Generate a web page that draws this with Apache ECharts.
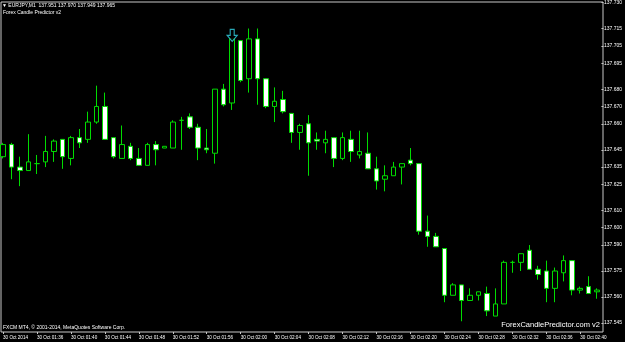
<!DOCTYPE html>
<html>
<head>
<meta charset="utf-8">
<script src="https://cdn.jsdelivr.net/npm/echarts@6/dist/echarts.min.js"></script>
<style>
html,body{margin:0;padding:0;background:#000;}
#chart{width:625px;height:342px;}
</style>
</head>
<body>
<div id="chart"></div>
<script>
// M1 bars, 30 Oct 2014, 01:32 .. 02:42
var times = ['01:32','01:33','01:34','01:35','01:36','01:37','01:38','01:39','01:40','01:41','01:42','01:43','01:44','01:45','01:46','01:47','01:48','01:49','01:50','01:51','01:52','01:53','01:54','01:55','01:56','01:57','01:58','01:59',
'02:00','02:01','02:02','02:03','02:04','02:05','02:06','02:07','02:08','02:09','02:10','02:11','02:12','02:13','02:14','02:15','02:16','02:17','02:18','02:19','02:20','02:21','02:22','02:23','02:24','02:25','02:26','02:27','02:28','02:29','02:30','02:31','02:32','02:33','02:34','02:35','02:36','02:37','02:38','02:39','02:40','02:41','02:42'];

var open = [137.641,137.648,137.635,137.633,137.637,137.638,137.644,137.651,137.640,137.652,
137.651,137.661,137.670,137.652,137.640,137.647,137.640,137.636,137.648,137.646,
137.646,137.662,137.664,137.658,137.646,137.643,137.680,137.672,137.708,137.686,
137.709,137.686,137.670,137.674,137.666,137.655,137.660,137.651,137.649,137.652,
137.640,137.651,137.642,137.643,137.634,137.628,137.630,137.635,137.639,137.637,
137.598,137.595,137.588,137.561,137.567,137.558,137.561,137.562,137.549,137.556,
137.580,137.580,137.587,137.576,137.575,137.565,137.574,137.581,137.564,137.566,
137.563];
var close = [137.648,137.635,137.633,137.638,137.637,137.644,137.650,137.641,137.652,137.649,
137.661,137.670,137.651,137.641,137.648,137.640,137.636,137.648,137.645,137.647,
137.661,137.662,137.658,137.646,137.645,137.680,137.671,137.709,137.685,137.709,
137.686,137.670,137.673,137.667,137.655,137.659,137.649,137.650,137.651,137.640,
137.652,137.644,137.644,137.634,137.627,137.630,137.635,137.637,137.637,137.598,
137.595,137.589,137.561,137.567,137.558,137.561,137.563,137.552,137.556,137.580,
137.580,137.585,137.576,137.573,137.565,137.575,137.581,137.564,137.565,137.562,
137.564];
var low = [137.640,137.628,137.624,137.633,137.631,137.635,137.638,137.634,137.636,137.646,
137.649,137.660,137.651,137.640,137.640,137.639,137.636,137.636,137.636,137.646,
137.646,137.645,137.657,137.639,137.643,137.637,137.670,137.668,137.684,137.678,
137.671,137.669,137.661,137.666,137.649,137.645,137.630,137.645,137.643,137.635,
137.639,137.638,137.640,137.634,137.622,137.621,137.630,137.625,137.636,137.596,
137.589,137.589,137.557,137.561,137.546,137.558,137.558,137.549,137.549,137.556,
137.574,137.575,137.576,137.570,137.557,137.557,137.569,137.561,137.562,137.562,
137.559];
var high = [137.649,137.649,137.641,137.654,137.642,137.653,137.651,137.651,137.653,137.657,
137.667,137.682,137.678,137.652,137.659,137.649,137.646,137.649,137.650,137.647,
137.662,137.664,137.666,137.660,137.657,137.680,137.683,137.709,137.708,137.715,
137.715,137.686,137.681,137.679,137.666,137.660,137.665,137.655,137.656,137.652,
137.655,137.656,137.656,137.655,137.641,137.636,137.638,137.637,137.646,137.637,
137.607,137.597,137.588,137.568,137.567,137.565,137.563,137.566,137.565,137.581,
137.581,137.585,137.590,137.578,137.581,137.577,137.584,137.581,137.566,137.572,
137.565];

// sell signal arrow
var signalIndex = [27];
var signalPrice = [137.711];

// price-axis tick labels
var priceTicks = [137.730,137.715,137.705,137.695,137.680,137.670,137.660,137.645,137.635,137.625,137.610,137.600,137.590,137.575,137.560,137.545];

var ohlc = times.map(function(t, i){ return [open[i], close[i], low[i], high[i]]; });
var signals = signalIndex.map(function(x, i){ return [x, signalPrice[i]]; });

var FONT = "'Liberation Sans', Arial, sans-serif";
var GREEN = '#00dc00';
var FRAME = '#c8c8c8';

var chart = echarts.init(document.getElementById('chart'), null, {renderer:'canvas'});
chart.setOption({
  animation: false,
  backgroundColor: '#000000',
  title: [
    {text: '\u25BC EURJPY,M1  137.951 137.970 137.949 137.965', left: 2, top: 3, padding: 0,
     textStyle: {color:'#ffffff', fontSize:5, fontWeight:'normal', fontFamily: FONT}},
    {text: 'Forex Candle Predictor v2', left: 3, top: 10, padding: 0,
     textStyle: {color:'#ffffff', fontSize:5, fontWeight:'normal', fontFamily: FONT}},
    {text: 'FXCM MT4, \u00A9 2001-2014, MetaQuotes Software Corp.', left: 3, top: 325.5, padding: 0,
     textStyle: {color:'#ffffff', fontSize:5, fontWeight:'normal', fontFamily: FONT}},
    {text: 'ForexCandlePredictor.com v2', right: 25, top: 321, padding: 0,
     textStyle: {color:'#ffffff', fontSize:7.5, fontWeight:'normal', fontFamily: FONT}}
  ],
  grid: [
    {left: 1.7, right: 26.2, top: 2, bottom: 10, show: false},
    {left: 1, right: 22, top: 2, bottom: 10, show: true, borderColor: FRAME, borderWidth: 1, backgroundColor: 'transparent'}
  ],
  xAxis: [
    {type: 'category', gridIndex: 0, data: times, boundaryGap: false,
     axisLine: {show: false},
     axisTick: {show: true, interval: 3, length: 2, lineStyle: {color: FRAME}},
     axisLabel: {interval: 3, align: 'left', margin: 3, color: '#ffffff', fontSize: 4.6, fontFamily: FONT,
       formatter: function(v, idx){ return idx === 0 ? '30 Oct 2014' : '30 Oct ' + v; }},
     splitLine: {show: false}},
    {type: 'value', gridIndex: 1, show: false, min: 0, max: 1}
  ],
  yAxis: [
    {type: 'value', gridIndex: 0, position: 'right', offset: 4.2, min: 137.5398, max: 137.7303, scale: true,
     axisLine: {show: false},
     axisTick: {show: true, length: 2, customValues: priceTicks, lineStyle: {color: FRAME}},
     axisLabel: {customValues: priceTicks, margin: 2.5, color: '#ffffff', fontSize: 5, fontFamily: FONT,
       formatter: function(v){ return v.toFixed(3); }},
     splitLine: {show: false}},
    {type: 'value', gridIndex: 1, show: false, min: 0, max: 1}
  ],
  series: [
    {type: 'candlestick', xAxisIndex: 0, yAxisIndex: 0, data: ohlc, barWidth: 5, clip: false,
     itemStyle: {color: '#000000', color0: '#ffffff', borderColor: GREEN, borderColor0: GREEN,
       borderColorDoji: GREEN, borderWidth: 1}},
    {type: 'scatter', xAxisIndex: 0, yAxisIndex: 0, data: signals,
     symbol: 'path://M3,0 L7,0 L7,6 L10,6 L5,12 L0,6 L3,6 Z', symbolSize: [10, 12],
     itemStyle: {color: '#000000', borderColor: '#33d4e6', borderWidth: 1.2}, z: 5}
  ]
});
</script>
</body>
</html>
